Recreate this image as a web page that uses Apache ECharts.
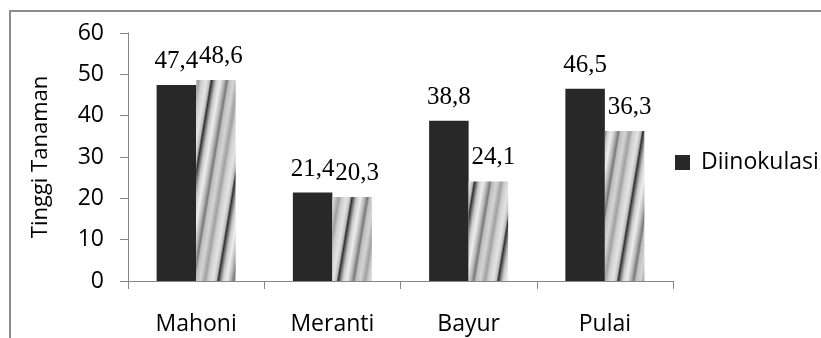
<!DOCTYPE html>
<html>
<head>
<meta charset="utf-8">
<script src="https://cdn.jsdelivr.net/npm/echarts@6/dist/echarts.min.js"></script>
<style>
  html, body { margin: 0; padding: 0; background: #ffffff; }
  #chart { width: 821px; height: 338px; }
</style>
</head>
<body>
<div id="chart"></div>
<script>
// Plant species on the category axis
const categories = ['Mahoni', 'Meranti', 'Bayur', 'Pulai'];
// Plant height per treatment
const inokulasi = [47.4, 21.4, 38.8, 46.5];
const tanpaInokulasi = [48.6, 20.3, 24.1, 36.3];
// Value axis range
const yMin = 0;
const yMax = 60;
const yStep = 10;

const SANS = '"Open Sans", sans-serif';
const SERIF = '"Liberation Serif", serif';

// Slanted grey band fill for the second series (repeating tile)
function makeStripeTile() {
  const W = 40, H = 240;
  const slope = W / H;
  const stops = [
    [0.00, 120], [0.05, 190], [0.16, 212], [0.28, 160], [0.36, 205],
    [0.48, 228], [0.56, 190], [0.61, 45], [0.65, 110], [0.72, 200],
    [0.82, 238], [0.92, 185], [1.00, 120]
  ];
  function shade(p) {
    for (let i = 1; i < stops.length; i++) {
      if (p <= stops[i][0]) {
        const a = stops[i - 1], b = stops[i];
        const t = (p - a[0]) / (b[0] - a[0]);
        return Math.round(a[1] + (b[1] - a[1]) * t);
      }
    }
    return stops[stops.length - 1][1];
  }
  const c = document.createElement('canvas');
  c.width = W; c.height = H;
  const ctx = c.getContext('2d');
  const img = ctx.createImageData(W, H);
  for (let y = 0; y < H; y++) {
    for (let x = 0; x < W; x++) {
      const p = ((x + y * slope) % W + W) % W / W;
      const v = shade(p);
      const k = (y * W + x) * 4;
      img.data[k] = v; img.data[k + 1] = v; img.data[k + 2] = v; img.data[k + 3] = 255;
    }
  }
  ctx.putImageData(img, 0, 0);
  return c;
}

const fmt = p => String(p.value).replace('.', ',');

const chart = echarts.init(document.getElementById('chart'), null, { renderer: 'canvas' });

chart.setOption({
  animation: false,
  backgroundColor: '#ffffff',
  graphic: [{
    type: 'rect',
    shape: { x: 10, y: 11, width: 900, height: 400 },
    style: { fill: null, stroke: '#8c8c8c', lineWidth: 2 },
    silent: true,
    z: -1
  }],
  grid: { left: 128, right: 148, top: 33, bottom: 57 },
  legend: {
    data: ['Diinokulasi'],
    orient: 'vertical',
    left: 675,
    top: 151,
    padding: 0,
    itemWidth: 15,
    itemHeight: 15,
    icon: 'rect',
    textStyle: { fontFamily: SANS, fontSize: 23, color: '#000000', padding: [0, 0, 0, 6] }
  },
  xAxis: {
    type: 'category',
    data: categories,
    axisLine: { lineStyle: { color: '#868686', width: 1 } },
    axisTick: { show: true, length: 8, lineStyle: { color: '#868686' } },
    axisLabel: { fontFamily: SANS, fontSize: 23, color: '#000000', margin: 32 }
  },
  yAxis: {
    type: 'value',
    min: yMin,
    max: yMax,
    interval: yStep,
    name: 'Tinggi Tanaman',
    nameLocation: 'middle',
    nameRotate: 90,
    nameGap: 76,
    nameTextStyle: { fontFamily: SANS, fontSize: 22, color: '#000000' },
    axisLine: { show: true, lineStyle: { color: '#868686', width: 1 } },
    axisTick: { show: true, length: 8, lineStyle: { color: '#868686' } },
    splitLine: { show: false },
    axisLabel: { fontFamily: SANS, fontSize: 23, color: '#000000', margin: 24 }
  },
  series: [
    {
      name: 'Diinokulasi',
      type: 'bar',
      data: inokulasi,
      barGap: '0%',
      barCategoryGap: '42%',
      itemStyle: { color: '#282828' },
      label: {
        show: true, position: 'top', distance: 11, formatter: fmt,
        fontFamily: SERIF, fontSize: 25, color: '#000000'
      }
    },
    {
      name: 'Tanpa Inokulasi',
      type: 'bar',
      data: tanpaInokulasi,
      barGap: '0%',
      barCategoryGap: '42%',
      itemStyle: { color: { image: makeStripeTile(), repeat: 'repeat' } },
      label: {
        show: true, position: 'top', distance: 11, offset: [5, 0], formatter: fmt,
        fontFamily: SERIF, fontSize: 25, color: '#000000'
      }
    }
  ]
});
</script>
</body>
</html>
